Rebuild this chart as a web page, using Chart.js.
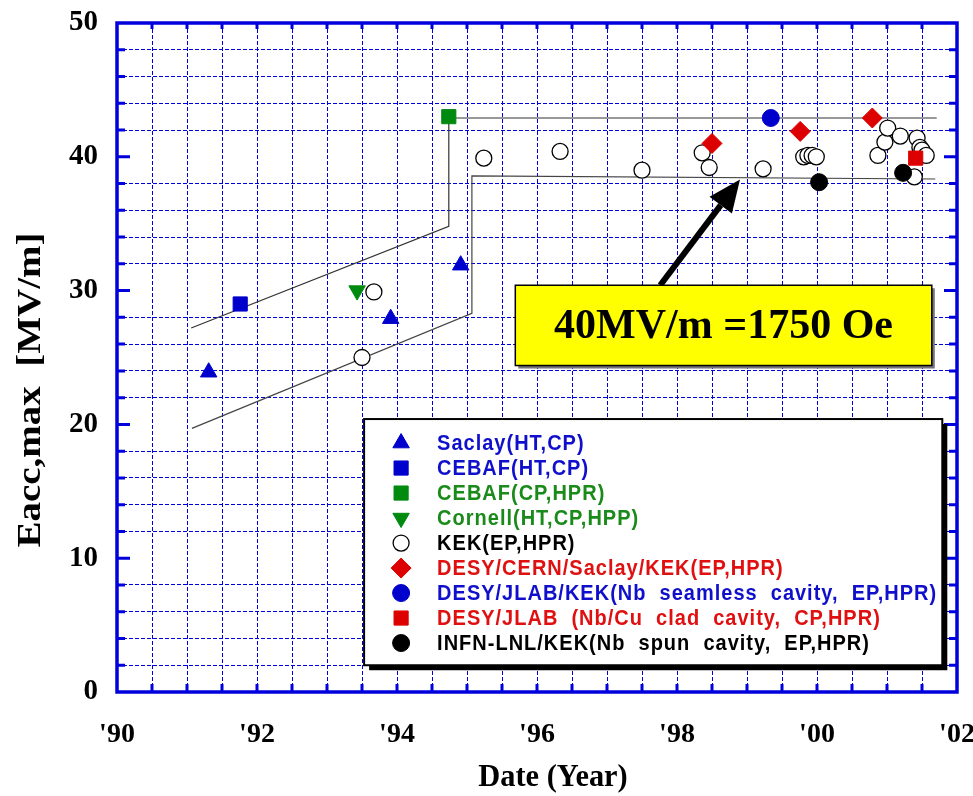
<!DOCTYPE html>
<html>
<head>
<meta charset="utf-8">
<script src="https://cdn.jsdelivr.net/npm/chart.js@4.4.1/dist/chart.umd.min.js"></script>
<style>
  html, body { margin: 0; padding: 0; background: #fff; }
  #wrap { width: 973px; height: 796px; }
</style>
</head>
<body>
<div id="wrap"><canvas id="myChart"></canvas></div>
<script>
// tick labels
const yearTicks = [90, 92, 94, 96, 98, 100, 102];
const yearLabels = ["'90", "'92", "'94", "'96", "'98", "'00", "'02"];
const eTicks = [0, 10, 20, 30, 40, 50];

// series (x = year since 1900, y = Eacc,max in MV/m)
const saclayYear = [91.31, 93.91, 94.91];
const saclayE = [23.9, 27.9, 31.9];
const cebafHtYear = [91.76];
const cebafHtE = [29.0];
const cebafHprYear = [94.74];
const cebafHprE = [43.0];
const cornellYear = [93.43];
const cornellE = [30.0];
const kekYear = [93.67, 93.5, 95.24, 96.33, 97.5, 98.36, 98.46, 99.23, 99.81, 99.87, 99.93, 99.99,
                 100.87, 100.97, 101.01, 101.19, 101.43, 101.47, 101.5, 101.56, 101.39];
const kekE = [29.9, 25.0, 39.9, 40.4, 39.0, 40.3, 39.2, 39.1, 40.0, 40.1, 40.1, 40.0,
              40.1, 41.1, 42.15, 41.55, 41.4, 40.7, 40.5, 40.1, 38.5];
const desyCernYear = [98.5, 99.76, 100.79];
const desyCernE = [41.0, 41.9, 42.9];
const seamlessYear = [99.34];
const seamlessE = [42.9];
const cladYear = [101.41];
const cladE = [39.9];
const spunYear = [100.03, 101.23];
const spunE = [38.1, 38.8];

// trend band
const bandUpperYear = [91.06, 94.74, 94.74, 101.71];
const bandUpperE = [27.2, 34.8, 42.9, 42.9];
const bandLowerYear = [91.07, 95.07, 95.07, 101.69];
const bandLowerE = [19.7, 28.3, 38.57, 38.34];

const pts = (xs, ys) => xs.map((x, i) => ({ x: x, y: ys[i] }));

const BLUE = '#0000cc';
const GREEN = '#008a10';
const RED = '#dd0000';
const AXIS = '#0000dd';

const datasets = [
  { label: 'Saclay(HT,CP)', data: pts(saclayYear, saclayE), pointStyle: 'triangle', pointRadius: 9.5,
    backgroundColor: BLUE, borderColor: BLUE, textColor: '#1010cc' },
  { label: 'CEBAF(HT,CP)', data: pts(cebafHtYear, cebafHtE), pointStyle: 'rect', pointRadius: 10,
    backgroundColor: BLUE, borderColor: BLUE, textColor: '#1010cc' },
  { label: 'CEBAF(CP,HPR)', data: pts(cebafHprYear, cebafHprE), pointStyle: 'rect', pointRadius: 10,
    backgroundColor: GREEN, borderColor: GREEN, textColor: '#1a8a1a' },
  { label: 'Cornell(HT,CP,HPP)', data: pts(cornellYear, cornellE), pointStyle: 'triangle', rotation: 180,
    pointRadius: 9.5, backgroundColor: GREEN, borderColor: GREEN, textColor: '#1a8a1a' },
  { label: 'KEK(EP,HPR)', data: pts(kekYear, kekE), pointStyle: 'circle', pointRadius: 8,
    backgroundColor: '#fff', borderColor: '#000', borderWidth: 1.3, order: 1, textColor: '#000' },
  { label: 'DESY/CERN/Saclay/KEK(EP,HPR)', data: pts(desyCernYear, desyCernE), pointStyle: 'rectRot',
    pointRadius: 10, backgroundColor: RED, borderColor: RED, textColor: '#e01010' },
  { label: 'DESY/JLAB/KEK(Nb  seamless  cavity,  EP,HPR)', data: pts(seamlessYear, seamlessE),
    pointStyle: 'circle', pointRadius: 8.5, backgroundColor: BLUE, borderColor: BLUE, textColor: '#1010cc' },
  { label: 'DESY/JLAB  (Nb/Cu  clad  cavity,  CP,HPR)', data: pts(cladYear, cladE), pointStyle: 'rect',
    pointRadius: 10, backgroundColor: RED, borderColor: RED, textColor: '#e01010' },
  { label: 'INFN-LNL/KEK(Nb  spun  cavity,  EP,HPR)', data: pts(spunYear, spunE), pointStyle: 'circle',
    pointRadius: 8.5, backgroundColor: '#000', borderColor: '#000', textColor: '#000' },
  { label: 'band upper', data: pts(bandUpperYear, bandUpperE), showLine: true, pointRadius: 0,
    borderColor: '#333', borderWidth: 1.2, order: 2, isBand: true },
  { label: 'band lower', data: pts(bandLowerYear, bandLowerE), showLine: true, pointRadius: 0,
    borderColor: '#444', borderWidth: 1.2, order: 2, isBand: true }
];

// frame, inward ticks
const framePlugin = {
  id: 'frame',
  beforeDatasetsDraw(chart) {
    const { ctx, chartArea: a, scales: { x, y } } = chart;
    ctx.save();
    ctx.strokeStyle = AXIS;
    ctx.lineWidth = 3;
    for (let v = 90.5; v < 102; v += 0.5) {
      const px = x.getPixelForValue(v);
      ctx.beginPath();
      ctx.moveTo(px, a.bottom); ctx.lineTo(px, a.bottom - 8);
      ctx.moveTo(px, a.top); ctx.lineTo(px, a.top + 6);
      ctx.stroke();
    }
    for (let v = 2; v < 50; v += 2) {
      const py = y.getPixelForValue(v);
      const len = v % 10 === 0 ? 13 : 8;
      ctx.beginPath();
      ctx.moveTo(a.left, py); ctx.lineTo(a.left + len, py);
      ctx.moveTo(a.right, py); ctx.lineTo(a.right - len, py);
      ctx.stroke();
    }
    ctx.lineWidth = 3.5;
    ctx.strokeRect(a.left, a.top, a.right - a.left, a.bottom - a.top);
    ctx.restore();
  }
};

// yellow note with arrow
const noteBox = { x0: 95.69, x1: 101.64, y0: 30.4, y1: 24.4 };
const arrowFrom = { x: 97.76, y: 30.4 };
const arrowTo = { x: 98.9, y: 38.3 };

const notePlugin = {
  id: 'note',
  afterDatasetsDraw(chart) {
    const { ctx, scales: { x, y } } = chart;
    ctx.save();
    // arrow
    const x1 = x.getPixelForValue(arrowFrom.x), y1 = y.getPixelForValue(arrowFrom.y);
    const x2 = x.getPixelForValue(arrowTo.x), y2 = y.getPixelForValue(arrowTo.y);
    const ang = Math.atan2(y2 - y1, x2 - x1);
    const head = 32, hw = 14;
    const bx = x2 - head * Math.cos(ang), by = y2 - head * Math.sin(ang);
    ctx.strokeStyle = '#000';
    ctx.lineWidth = 6;
    ctx.beginPath(); ctx.moveTo(x1, y1); ctx.lineTo(bx, by); ctx.stroke();
    ctx.fillStyle = '#000';
    ctx.beginPath();
    ctx.moveTo(x2, y2);
    ctx.lineTo(bx + hw * Math.sin(ang), by - hw * Math.cos(ang));
    ctx.lineTo(bx - hw * Math.sin(ang), by + hw * Math.cos(ang));
    ctx.closePath(); ctx.fill();
    // box
    const l = x.getPixelForValue(noteBox.x0), r = x.getPixelForValue(noteBox.x1);
    const t = y.getPixelForValue(noteBox.y0), b = y.getPixelForValue(noteBox.y1);
    ctx.fillStyle = '#777';
    ctx.fillRect(l + 3, t + 3, r - l, b - t);
    ctx.fillStyle = '#ffff00';
    ctx.fillRect(l, t, r - l, b - t);
    ctx.lineWidth = 1.5;
    ctx.strokeStyle = '#000';
    ctx.strokeRect(l, t, r - l, b - t);
    ctx.fillStyle = '#000';
    ctx.font = 'bold 42px "Liberation Serif"';
    ctx.textAlign = 'center';
    ctx.textBaseline = 'middle';
    ctx.fillText('40MV/m =1750 Oe', (l + r) / 2, (t + b) / 2 + 2);
    ctx.restore();
  }
};

// legend box inside the plot
const legendBox = { x0: 93.53, x1: 101.79, y0: 20.4, y1: 2.0 };

const legendPlugin = {
  id: 'boxLegend',
  afterDatasetsDraw(chart) {
    const { ctx, scales: { x, y } } = chart;
    const l = x.getPixelForValue(legendBox.x0), r = x.getPixelForValue(legendBox.x1);
    const t = y.getPixelForValue(legendBox.y0), b = y.getPixelForValue(legendBox.y1);
    ctx.save();
    ctx.fillStyle = '#000';
    ctx.fillRect(l + 5, t + 5, r - l, b - t);
    ctx.fillStyle = '#fff';
    ctx.fillRect(l, t, r - l, b - t);
    ctx.lineWidth = 2;
    ctx.strokeStyle = '#000';
    ctx.strokeRect(l, t, r - l, b - t);
    ctx.textBaseline = 'middle';
    ctx.textAlign = 'left';
    let row = 0;
    chart.data.datasets.forEach(ds => {
      if (ds.isBand) return;
      const cy = t + 24 + row * 25;
      const cx = l + 37;
      ctx.fillStyle = ds.backgroundColor;
      ctx.strokeStyle = ds.borderColor;
      ctx.lineWidth = ds.borderWidth || 1;
      Chart.helpers.drawPoint(ctx, {
        pointStyle: ds.pointStyle,
        rotation: ds.rotation || 0,
        radius: ds.pointRadius,
        borderWidth: ds.borderWidth || 1
      }, cx, cy);
      ctx.save();
      ctx.translate(l + 73, cy + 1);
      ctx.scale(1, 1.08);
      ctx.font = 'bold 20px "Liberation Sans"';
      if ('letterSpacing' in ctx) ctx.letterSpacing = '1px';
      ctx.fillStyle = ds.textColor;
      ctx.fillText(ds.label, 0, 0);
      ctx.restore();
      row++;
    });
    ctx.restore();
  }
};

// axis titles
const titlePlugin = {
  id: 'titles',
  afterDraw(chart) {
    const { ctx } = chart;
    ctx.save();
    ctx.fillStyle = '#000';
    ctx.font = 'bold 32px "Liberation Serif"';
    ctx.textAlign = 'center';
    ctx.textBaseline = 'alphabetic';
    ctx.save();
    ctx.translate(553, 786);
    ctx.scale(0.95, 1);
    ctx.fillText('Date (Year)', 0, 0);
    ctx.restore();
    ctx.translate(40, 390);
    ctx.rotate(-Math.PI / 2);
    ctx.scale(1, 0.84);
    ctx.font = 'bold 39px "Liberation Serif"';
    ctx.fillText('Eacc,max  [MV/m]', 0, 0);
    ctx.restore();
  }
};

const ctx = document.getElementById('myChart');

new Chart(ctx, {
  type: 'scatter',
  data: { datasets: datasets },
  plugins: [framePlugin, notePlugin, legendPlugin, titlePlugin],
  options: {
    responsive: true,
    maintainAspectRatio: false,
    animation: false,
    layout: { padding: { left: 0, right: 16, top: 23, bottom: 0 } },
    elements: { point: { borderWidth: 1 } },
    plugins: {
      legend: { display: false },
      tooltip: { enabled: false }
    },
    scales: {
      x: {
        type: 'linear',
        min: 90,
        max: 102,
        afterFit: s => { s.height = 104; s.paddingLeft = 0; s.paddingRight = 0; },
        afterBuildTicks: s => { s.ticks = []; for (let v = 90; v <= 102; v += 0.5) s.ticks.push({ value: v }); },
        ticks: {
          autoSkip: false,
          maxRotation: 0,
          padding: 26,
          color: '#000',
          font: { family: 'Liberation Serif', size: 28, weight: 'bold' },
          callback: v => { const i = yearTicks.indexOf(v); return i >= 0 ? yearLabels[i] : ''; }
        },
        grid: { color: AXIS, lineWidth: 1, drawTicks: false },
        border: { display: false, dash: [4, 2] }
      },
      y: {
        type: 'linear',
        min: 0,
        max: 50,
        afterFit: s => { s.width = 117; s.paddingTop = 0; s.paddingBottom = 0; },
        afterBuildTicks: s => { s.ticks = []; for (let v = 0; v <= 50; v += 2) s.ticks.push({ value: v }); },
        ticks: {
          autoSkip: false,
          padding: 19,
          color: '#000',
          font: { family: 'Liberation Serif', size: 29, weight: 'bold' },
          callback: v => eTicks.includes(v) ? String(v) : ''
        },
        grid: {
          color: c => (c.tick && c.tick.value % 10 === 0) ? 'rgba(0,0,0,0)' : AXIS,
          lineWidth: 1,
          drawTicks: false
        },
        border: { display: false, dash: [4, 2] }
      }
    }
  }
});
</script>
</body>
</html>
